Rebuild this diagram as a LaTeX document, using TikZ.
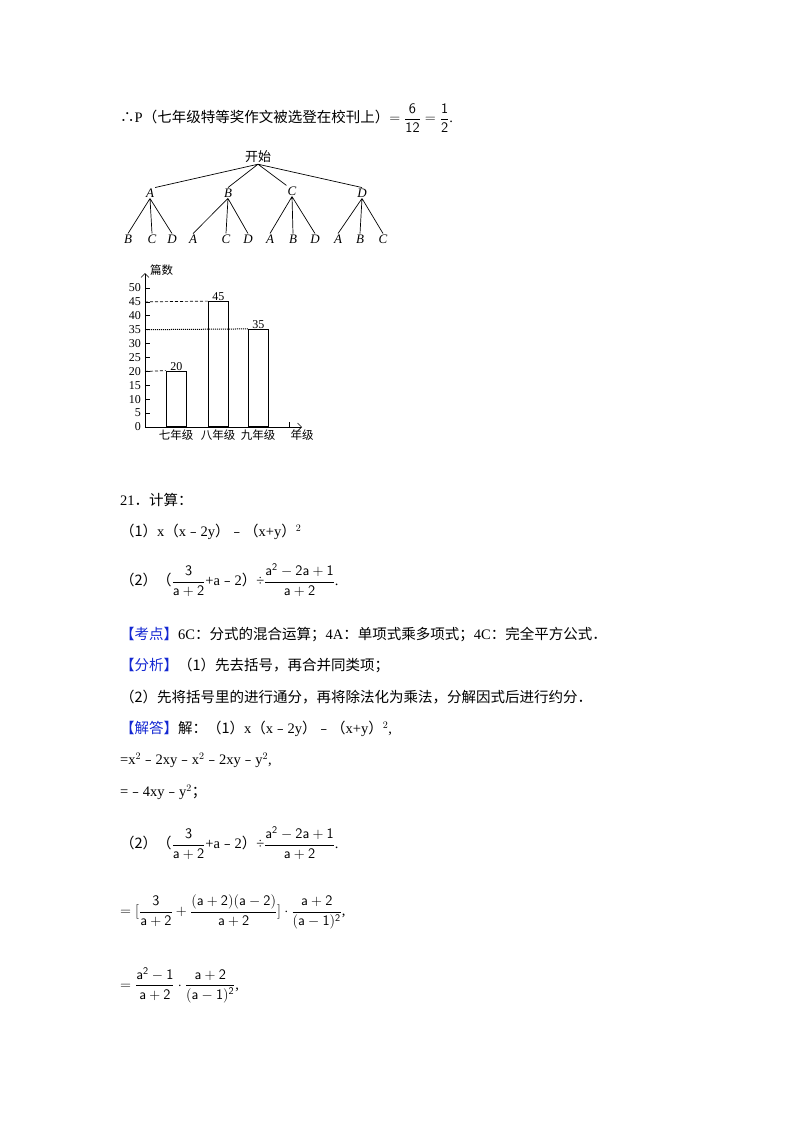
\documentclass[tikz,border=0pt]{standalone}
\usepackage{fontspec}
\setmainfont{Liberation Serif}
\newfontfamily\cjk{Noto Sans CJK SC}
\usetikzlibrary{arrows.meta}
\definecolor{kblue}{RGB}{20,40,210}
\newcommand{\zh}[1]{{\cjk #1}}
\newcommand{\mn}{{\cjk ﹣}}
\newcommand{\df}[2]{{\displaystyle\frac{\mathsf{#1}}{\mathsf{#2}}}}
\begin{document}
\begin{tikzpicture}[x=1pt,y=-1pt,
  txt/.style={anchor=west,inner sep=0pt,font=\fontsize{14.5}{17}\selectfont},
  lf/.style={inner sep=1pt,font=\fontsize{13}{15}\selectfont\itshape},
  tk/.style={anchor=east,inner sep=0pt,font=\fontsize{12}{14}\selectfont},
  bar/.style={draw,line width=0.8pt},
  dl/.style={densely dashed,line width=0.7pt},
  cl/.style={anchor=north,inner sep=0pt,font=\cjk\fontsize{11.5}{13}\selectfont}]
\useasboundingbox (0,0) rectangle (800,1132);
% line 1
\node[txt] (l1) at (120,118) {\zh{∴}P\zh{（七年级特等奖作文被选登在校刊上）}$=\df{6}{12}=\df{1}{2}$.};
% tree
\node[lf,font=\cjk\fontsize{13}{15}\selectfont\itshape] (root) at (258,157) {开始};
\node[lf] (A) at (150,193) {A};
\node[lf] (B) at (228,193) {B};
\node[lf] (C) at (292,191) {C};
\node[lf] (D) at (362,193) {D};
\foreach \n/\x/\t in {ab/128/B,ac/152/C,ad/172/D,ba/193/A,bc/226/C,bd/248/D,ca/270/A,cb/293/B,cd/315/D,da/338/A,db/360/B,dc/383/C}{
  \node[lf] (\n) at (\x,239) {\t};
}
\draw[line width=0.7pt] (root.south) -- (A.north east) (root.south) -- (B.north) (root.south) -- (C.north west) (root.south) -- (D.north);
\foreach \p/\a/\b/\c in {A/ab/ac/ad,B/ba/bc/bd,C/ca/cb/cd,D/da/db/dc}{
  \draw[line width=0.7pt] (\p.south) -- (\a.north) (\p.south) -- (\b.north) (\p.south) -- (\c.north);
}
% chart
\coordinate (O) at (145,427);
\coordinate (yt) at (145,273);
\coordinate (xt) at (302,427);
\draw[line width=0.7pt,-{Straight Barb[length=4pt]}] (O) -- (yt);
\draw[line width=0.7pt,-{Straight Barb[length=4pt]}] (O) -- (xt);
\node[cl,anchor=west] (ylab) at (150,270) {篇数};
\foreach \v in {0,5,...,50}{
  \draw[line width=0.7pt] (145,{427-2.78*\v}) -- (150,{427-2.78*\v});
  \node[tk] (t\v) at (141,{427-2.78*\v}) {\v};
}
\draw[line width=0.7pt] (289,427) -- (289,422);
\node[bar,minimum width=20pt,minimum height={2.78*20pt},anchor=south west,inner sep=0pt] (b1) at (166,427) {};
\node[bar,minimum width=20pt,minimum height={2.78*45pt},anchor=south west,inner sep=0pt] (b2) at (208,427) {};
\node[bar,minimum width=20pt,minimum height={2.78*35pt},anchor=south west,inner sep=0pt] (b3) at (248,427) {};
\node[tk,anchor=south] (v1) at (b1.north) {20};
\node[tk,anchor=south] (v2) at (b2.north) {45};
\node[tk,anchor=south] (v3) at (b3.north) {35};
\draw[dl] (t20.east) ++(4,0) -- (b1.north west);
\draw[dl] (t45.east) ++(4,0) -- (b2.north west);
\draw[densely dotted,line width=1pt] (t35.east) ++(4,0) -- (b3.north west);
\node[cl] (c1) at (176,430) {七年级};
\node[cl] (c2) at (218,430) {八年级};
\node[cl] (c3) at (258,430) {九年级};
\node[cl] (c4) at (302,430) {年级};
% problem 21
\node[txt] (p21) at (120,500) {21\zh{．计算：}};
\node[txt] (p1) at (120,532) {\zh{（1）}x\zh{（}x\mn 2y\zh{）}\mn\zh{（}x+y\zh{）}$^2$};
\node[txt] (p2) at (120,580) {\zh{（2）（}$\df{3}{a+2}$+a\mn 2\zh{）}÷$\df{a^2-2a+1}{a+2}$.};
\node[txt] (k) at (120,634) {\textcolor{kblue}{\zh{【考点】}}6C\zh{：分式的混合运算；}4A\zh{：单项式乘多项式；}4C\zh{：完全平方公式．}};
\node[txt] (f) at (120,665) {\textcolor{kblue}{\zh{【分析】}}\zh{（1）先去括号，再合并同类项；}};
\node[txt] (f2) at (120,697) {\zh{（2）先将括号里的进行通分，再将除法化为乘法，分解因式后进行约分．}};
\node[txt] (j) at (120,729) {\textcolor{kblue}{\zh{【解答】}}\zh{解：（1）}x\zh{（}x\mn 2y\zh{）}\mn\zh{（}x+y\zh{）}$^2$,};
\node[txt] (j1) at (120,760) {=x$^2$\mn 2xy\mn x$^2$\mn 2xy\mn y$^2$,};
\node[txt] (j2) at (120,792) {=\mn 4xy\mn y$^2$\zh{；}};
\node[txt] (j3) at (120,843) {\zh{（2）（}$\df{3}{a+2}$+a\mn 2\zh{）}÷$\df{a^2-2a+1}{a+2}$.};
\node[txt] (j4) at (120,912) {$=[\df{3}{a+2}+\df{(a+2)(a-2)}{a+2}]\cdot\df{a+2}{(a-1)^2}$,};
\node[txt] (j5) at (120,985) {$=\df{a^2-1}{a+2}\cdot\df{a+2}{(a-1)^2}$,};
\end{tikzpicture}
\end{document}
